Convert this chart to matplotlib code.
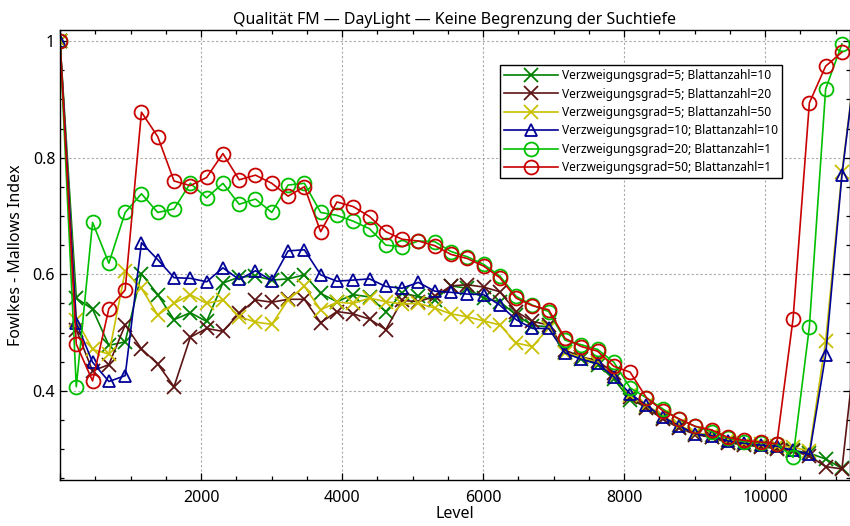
import numpy as np
import matplotlib
matplotlib.use("Agg")
import matplotlib.pyplot as plt
from matplotlib.ticker import MultipleLocator, FuncFormatter

plt.rcParams['font.family'] = ['Noto Sans', 'DejaVu Sans']

# Level-Stufen, gleichmaessig verteilt
levels = np.arange(50) * 231

v5_b10 = [1.0, 0.559, 0.540, 0.478, 0.484, 0.601, 0.565, 0.522, 0.534, 0.519,
          0.585, 0.595, 0.597, 0.590, 0.592, 0.599, 0.567, 0.553, 0.565, 0.561,
          0.536, 0.567, 0.562, 0.556, 0.580, 0.576, 0.559, 0.553, 0.530, 0.512,
          0.510, 0.466, 0.455, 0.445, 0.420, 0.385, 0.372, 0.354, 0.338, 0.326,
          0.321, 0.312, 0.308, 0.305, 0.302, 0.298, 0.293, 0.283, 0.267]
v5_b20 = [1.0, 0.505, 0.434, 0.445, 0.513, 0.472, 0.446, 0.407, 0.492, 0.507,
          0.502, 0.533, 0.556, 0.552, 0.557, 0.557, 0.517, 0.536, 0.532, 0.523,
          0.505, 0.555, 0.553, 0.562, 0.580, 0.582, 0.578, 0.570, 0.536, 0.519,
          0.513, 0.470, 0.458, 0.452, 0.430, 0.390, 0.370, 0.352, 0.336, 0.325,
          0.320, 0.311, 0.307, 0.304, 0.301, 0.297, 0.288, 0.270, 0.266, 0.52]
v5_b50 = [1.0, 0.522, 0.471, 0.463, 0.605, 0.576, 0.530, 0.550, 0.565, 0.550,
          0.556, 0.527, 0.518, 0.514, 0.556, 0.579, 0.539, 0.552, 0.550, 0.559,
          0.553, 0.549, 0.550, 0.542, 0.532, 0.527, 0.520, 0.513, 0.482, 0.476,
          0.508, 0.465, 0.458, 0.448, 0.425, 0.392, 0.376, 0.357, 0.341, 0.328,
          0.324, 0.316, 0.311, 0.309, 0.306, 0.303, 0.297, 0.485, 0.775, 1.0]
v10_b10 = [1.0, 0.517, 0.449, 0.416, 0.426, 0.654, 0.625, 0.594, 0.593, 0.587,
           0.611, 0.591, 0.606, 0.589, 0.640, 0.642, 0.599, 0.588, 0.590, 0.592,
           0.579, 0.576, 0.586, 0.571, 0.569, 0.566, 0.565, 0.547, 0.522, 0.507,
           0.507, 0.465, 0.454, 0.447, 0.424, 0.395, 0.375, 0.355, 0.340, 0.326,
           0.323, 0.314, 0.310, 0.307, 0.305, 0.298, 0.291, 0.462, 0.770, 1.0]
v20_b1 = [1.0, 0.407, 0.689, 0.619, 0.706, 0.738, 0.706, 0.712, 0.756, 0.731,
          0.756, 0.720, 0.729, 0.706, 0.753, 0.756, 0.706, 0.701, 0.691, 0.678,
          0.650, 0.647, 0.657, 0.656, 0.639, 0.630, 0.617, 0.597, 0.562, 0.547,
          0.536, 0.487, 0.479, 0.471, 0.449, 0.405, 0.388, 0.369, 0.351, 0.339,
          0.330, 0.319, 0.313, 0.311, 0.309, 0.286, 0.510, 0.918, 0.995]
v50_b1 = [1.0, 0.480, 0.417, 0.541, 0.573, 0.878, 0.836, 0.760, 0.752, 0.766,
          0.807, 0.762, 0.770, 0.756, 0.734, 0.750, 0.673, 0.724, 0.716, 0.699,
          0.673, 0.660, 0.657, 0.649, 0.634, 0.627, 0.614, 0.594, 0.559, 0.546,
          0.539, 0.490, 0.476, 0.468, 0.442, 0.432, 0.388, 0.366, 0.352, 0.339,
          0.333, 0.320, 0.315, 0.312, 0.309, 0.524, 0.894, 0.957, 0.981]

series = [
    (v5_b10, 'Verzweigungsgrad=5; Blattanzahl=10', '#008000', 'x'),
    (v5_b20, 'Verzweigungsgrad=5; Blattanzahl=20', '#5c1414', 'x'),
    (v5_b50, 'Verzweigungsgrad=5; Blattanzahl=50', '#c8c000', 'x'),
    (v10_b10, 'Verzweigungsgrad=10; Blattanzahl=10', '#000096', '^'),
    (v20_b1, 'Verzweigungsgrad=20; Blattanzahl=1', '#00c000', 'o'),
    (v50_b1, 'Verzweigungsgrad=50; Blattanzahl=1', '#c80000', 'o'),
]

fig = plt.figure(figsize=(8.5, 5.26), dpi=100)
ax = fig.add_axes([60 / 850, 46 / 526, 789.5 / 850, 450 / 526])

for vals, name, col, mk in series:
    ms = 10 if mk == 'o' else 9.5
    if mk == '^':
        ms = 9
    ax.plot(levels[:len(vals)], vals, color=col, marker=mk, markersize=ms,
            markerfacecolor='none', markeredgecolor=col, markeredgewidth=1.3,
            linewidth=1.2, label=name)

ax.set_xlim(0, 11195)
ax.set_ylim(0.247, 1.019)
ax.xaxis.set_major_locator(MultipleLocator(2000))
ax.xaxis.set_minor_locator(MultipleLocator(500))
ax.yaxis.set_major_locator(MultipleLocator(0.2))
ax.yaxis.set_minor_locator(MultipleLocator(0.05))
ax.yaxis.set_major_formatter(FuncFormatter(lambda v, p: '%g' % round(v, 2)))
ax.xaxis.set_major_formatter(FuncFormatter(lambda v, p: '' if v == 0 else '%d' % v))

ax.tick_params(which='both', direction='in', top=True, right=True, labelsize=11.5)
ax.tick_params(which='major', length=5, width=0.9)
ax.tick_params(which='minor', length=3, width=0.9)
ax.tick_params(axis='x', which='major', pad=7)
for s in ax.spines.values():
    s.set_linewidth(1.0)
ax.grid(True, which='major', color='#a8a8a8', linestyle=(0, (2, 2)), linewidth=0.8)

ax.set_title('Qualität FM — DayLight — Keine Begrenzung der Suchtiefe', fontsize=11.5, pad=4)
ax.set_xlabel('Level', fontsize=11.5, labelpad=0)
ax.set_ylabel('Fowlkes - Mallows Index', fontsize=11.5, labelpad=6)

leg = ax.legend(loc='upper left', bbox_to_anchor=(500 / 850, 1 - 65 / 526),
                bbox_transform=fig.transFigure, fontsize=8.6, handlelength=4.5,
                handletextpad=0.3, labelspacing=0.45, borderaxespad=0,
                fancybox=False, framealpha=1, edgecolor='black', borderpad=0.35)
leg.get_frame().set_linewidth(1.0)

fig.savefig('out.png', dpi=100)
